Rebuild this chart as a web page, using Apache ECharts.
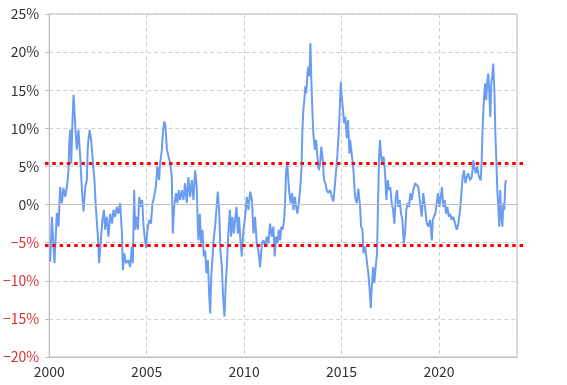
<!DOCTYPE html>
<html>
<head>
<meta charset="utf-8">
<script src="https://cdn.jsdelivr.net/npm/echarts@6/dist/echarts.min.js"></script>
<style>html,body{margin:0;padding:0;background:#fff}#c{width:567px;height:385px}</style>
</head>
<body>
<div id="c"></div>
<script>
var years = [2000.05,2000.14,2000.27,2000.39,2000.48,2000.56,2000.65,2000.73,2000.82,2000.91,2000.99,2001.03,2001.08,2001.13,2001.19,2001.25,2001.30,2001.37,2001.42,2001.50,2001.59,2001.68,2001.76,2001.85,2001.93,2001.98,2002.07,2002.15,2002.22,2002.32,2002.39,2002.50,2002.56,2002.65,2002.73,2002.81,2002.87,2002.96,2003.04,2003.13,2003.22,2003.30,2003.38,2003.47,2003.55,2003.64,2003.73,2003.78,2003.85,2003.95,2004.07,2004.15,2004.24,2004.29,2004.36,2004.41,2004.50,2004.55,2004.62,2004.70,2004.77,2004.84,2004.92,2004.97,2005.04,2005.13,2005.22,2005.30,2005.38,2005.47,2005.55,2005.64,2005.69,2005.78,2005.83,2005.90,2005.96,2006.04,2006.12,2006.21,2006.29,2006.34,2006.41,2006.51,2006.58,2006.65,2006.72,2006.81,2006.89,2006.97,2007.06,2007.14,2007.23,2007.32,2007.40,2007.49,2007.57,2007.63,2007.66,2007.73,2007.79,2007.86,2007.93,2008.00,2008.07,2008.14,2008.21,2008.26,2008.31,2008.37,2008.45,2008.51,2008.58,2008.65,2008.72,2008.78,2008.86,2008.92,2008.99,2009.06,2009.13,2009.19,2009.27,2009.33,2009.40,2009.47,2009.54,2009.61,2009.68,2009.74,2009.81,2009.88,2009.95,2010.05,2010.14,2010.22,2010.31,2010.40,2010.48,2010.56,2010.65,2010.73,2010.82,2010.91,2010.99,2011.08,2011.16,2011.25,2011.33,2011.42,2011.50,2011.57,2011.64,2011.71,2011.78,2011.85,2011.91,2011.98,2012.05,2012.10,2012.15,2012.21,2012.26,2012.32,2012.39,2012.46,2012.53,2012.60,2012.67,2012.73,2012.81,2012.87,2012.94,2012.99,2013.04,2013.09,2013.14,2013.19,2013.25,2013.30,2013.35,2013.40,2013.45,2013.50,2013.55,2013.63,2013.69,2013.76,2013.83,2013.90,2013.96,2014.04,2014.10,2014.17,2014.24,2014.32,2014.41,2014.50,2014.58,2014.65,2014.72,2014.78,2014.86,2014.91,2014.96,2015.01,2015.06,2015.13,2015.19,2015.27,2015.33,2015.40,2015.44,2015.52,2015.61,2015.69,2015.78,2015.86,2015.95,2016.00,2016.07,2016.12,2016.21,2016.29,2016.37,2016.43,2016.50,2016.55,2016.62,2016.68,2016.75,2016.82,2016.87,2016.92,2016.97,2017.03,2017.09,2017.16,2017.23,2017.30,2017.37,2017.44,2017.50,2017.57,2017.64,2017.71,2017.78,2017.85,2017.91,2017.98,2018.05,2018.12,2018.19,2018.26,2018.32,2018.39,2018.46,2018.53,2018.60,2018.68,2018.77,2018.86,2018.94,2019.03,2019.11,2019.19,2019.28,2019.37,2019.45,2019.54,2019.63,2019.68,2019.74,2019.81,2019.88,2019.95,2020.02,2020.09,2020.15,2020.22,2020.29,2020.36,2020.43,2020.50,2020.56,2020.65,2020.73,2020.82,2020.91,2020.99,2021.08,2021.16,2021.21,2021.28,2021.35,2021.42,2021.50,2021.59,2021.68,2021.76,2021.81,2021.88,2021.96,2022.05,2022.14,2022.19,2022.22,2022.27,2022.32,2022.37,2022.42,2022.48,2022.53,2022.58,2022.63,2022.68,2022.73,2022.78,2022.84,2022.89,2022.94,2022.99,2023.04,2023.09,2023.14,2023.19,2023.25,2023.30,2023.35,2023.40,2023.44];
var values = [-7.5,-1.6,-7.7,-1.1,-2.9,2.3,0.2,2.2,1.0,2.3,4.5,8.1,9.8,5.4,10.7,14.4,12.0,8.9,7.2,9.8,6.3,1.9,-0.9,2.3,3.2,7.6,9.8,8.5,6.3,3.2,-0.3,-4.2,-7.7,-4.7,-2.0,-0.7,-3.3,-1.6,-4.2,-1.2,-2.5,-0.7,-1.6,-0.3,-1.2,0.2,-3.7,-8.6,-6.4,-7.7,-7.3,-8.2,-5.5,-7.7,1.9,-3.3,-1.6,-3.3,1.0,-0.3,0.6,-2.9,-4.7,-5.7,-3.3,-2.0,-2.5,0.2,1.0,2.3,5.0,3.2,5.4,7.2,9.3,10.9,10.4,7.2,6.3,5.4,3.6,-3.8,-0.3,1.5,0.2,1.9,0.6,1.9,0.6,2.8,0.2,3.6,1.0,3.2,0.6,4.5,2.3,-3.3,-4.7,-1.2,-5.1,-3.3,-6.8,-6.0,-9.0,-7.3,-12.1,-14.3,-9.5,-7.3,-4.2,-2.9,-0.7,1.7,-0.7,-6.0,-8.2,-12.1,-14.7,-10.3,-7.3,-3.8,-0.7,-4.2,-1.6,-3.8,-2.0,-0.3,-3.8,-1.6,-4.7,-6.8,-3.8,-1.6,1.0,-0.7,1.7,0.6,-3.8,-1.6,-5.1,-6.0,-8.2,-5.1,-4.7,-5.5,-4.2,-5.1,-2.5,-4.2,-2.9,-6.8,-4.2,-5.1,-3.3,-4.7,-2.9,-3.3,-2.0,0.2,4.1,5.6,3.6,1.5,0.2,1.5,-0.7,1.0,-0.3,-1.2,0.2,1.9,4.5,9.8,12.4,13.7,15.5,14.6,17.2,18.1,16.8,21.2,16.3,12.4,9.3,7.2,8.5,6.3,4.5,5.4,7.6,5.8,3.2,2.8,1.9,1.5,1.9,1.0,0.4,2.3,4.5,6.3,9.8,12.8,16.1,14.1,12.8,10.7,11.5,8.7,11.1,6.7,8.5,6.7,4.5,1.0,0.2,2.1,-0.3,-2.9,-3.3,-6.4,-5.5,-7.3,-9.0,-10.8,-13.6,-10.8,-8.2,-10.3,-8.2,-6.4,0.2,5.8,8.5,6.3,5.4,6.3,4.1,0.6,3.2,1.9,2.3,0.2,-0.7,-2.5,1.0,1.9,-0.3,0.6,-1.2,-2.0,-5.1,-3.8,-0.7,0.2,-0.3,1.5,0.6,1.9,2.8,3.0,2.3,0.2,-1.6,1.5,-0.3,-2.5,-2.9,-2.0,-4.7,-2.0,-1.6,-1.2,0.2,1.5,-0.3,1.0,2.3,-0.3,0.6,-1.2,-0.3,-1.6,-1.2,-2.0,-1.6,-2.5,-3.3,-2.5,-0.7,1.9,3.6,4.5,2.8,3.6,4.1,3.2,3.6,5.8,5.0,4.1,5.0,3.6,3.2,5.8,8.9,12.0,14.6,15.9,13.7,16.3,17.2,14.6,11.5,15.9,16.8,18.5,15.0,9.3,5.8,1.9,-0.3,-2.9,1.9,-1.6,-2.9,0.2,-0.7,2.8,3.2];
var bandUpper = 5.4;
var bandLower = -5.4;
var xTicks = [2000, 2024, 5];
var yTicks = [-20, 25, 5];

var data = years.map(function (y, i) { return [y, values[i]]; });
var chart = echarts.init(document.getElementById('c'));
var font = '"Noto Sans CJK JP", "Noto Sans", sans-serif';
var redDot = { color: '#ff0000', width: 3, type: [3.5, 3.8] };
chart.setOption({
  animation: false,
  grid: [
    { left: 49, right: 50, top: 14, bottom: 28, show: true, borderColor: '#bdbdbd', borderWidth: 1 },
    { left: 45, right: 43, top: 14, bottom: 28, show: false }
  ],
  xAxis: [{
    type: 'value', min: xTicks[0], max: xTicks[1], interval: xTicks[2],
    axisLine: { onZero: false, lineStyle: { color: '#bdbdbd' } },
    axisTick: { show: false },
    axisLabel: { showMaxLabel: false, color: '#333', fontSize: 14, fontFamily: font, margin: 8, formatter: function (v) { return String(v); } },
    splitLine: { show: true, lineStyle: { color: '#cfcfcf', type: [4, 3] } }
  }, {
    gridIndex: 1, type: 'value', min: 0, max: 1, show: false
  }],
  yAxis: [{
    type: 'value', min: yTicks[0], max: yTicks[1], interval: yTicks[2],
    axisLine: { show: true, lineStyle: { color: '#bdbdbd' } },
    axisTick: { show: true, length: 4, lineStyle: { color: '#bdbdbd' } },
    axisLabel: {
      fontSize: 14, fontFamily: font, margin: 10,
      color: function (v) { return Number(v) < 0 ? '#e03030' : '#333'; },
      formatter: function (v) { return (v < 0 ? '\u2212' + Math.abs(v) : v) + '%'; }
    },
    splitLine: { show: true, lineStyle: { color: '#cfcfcf', type: [4, 3] } }
  }, {
    gridIndex: 1, type: 'value', min: yTicks[0], max: yTicks[1], show: false
  }],
  series: [{
    type: 'line', data: data, showSymbol: false, clip: false, z: 2,
    lineStyle: { color: '#6a9cf2', width: 2 },
    markLine: {
      silent: true, symbol: 'none', animation: false,
      label: { show: false },
      data: [
        { yAxis: 0, lineStyle: { color: '#bdbdbd', width: 1, type: 'solid' } }
      ]
    }
  }, {
    type: 'line', data: [], z: 3, xAxisIndex: 1, yAxisIndex: 1,
    markLine: {
      silent: true, symbol: 'none', animation: false,
      label: { show: false },
      lineStyle: redDot,
      data: [
        { yAxis: bandUpper },
        { yAxis: bandLower }
      ]
    }
  }]
});
</script>
</body>
</html>
